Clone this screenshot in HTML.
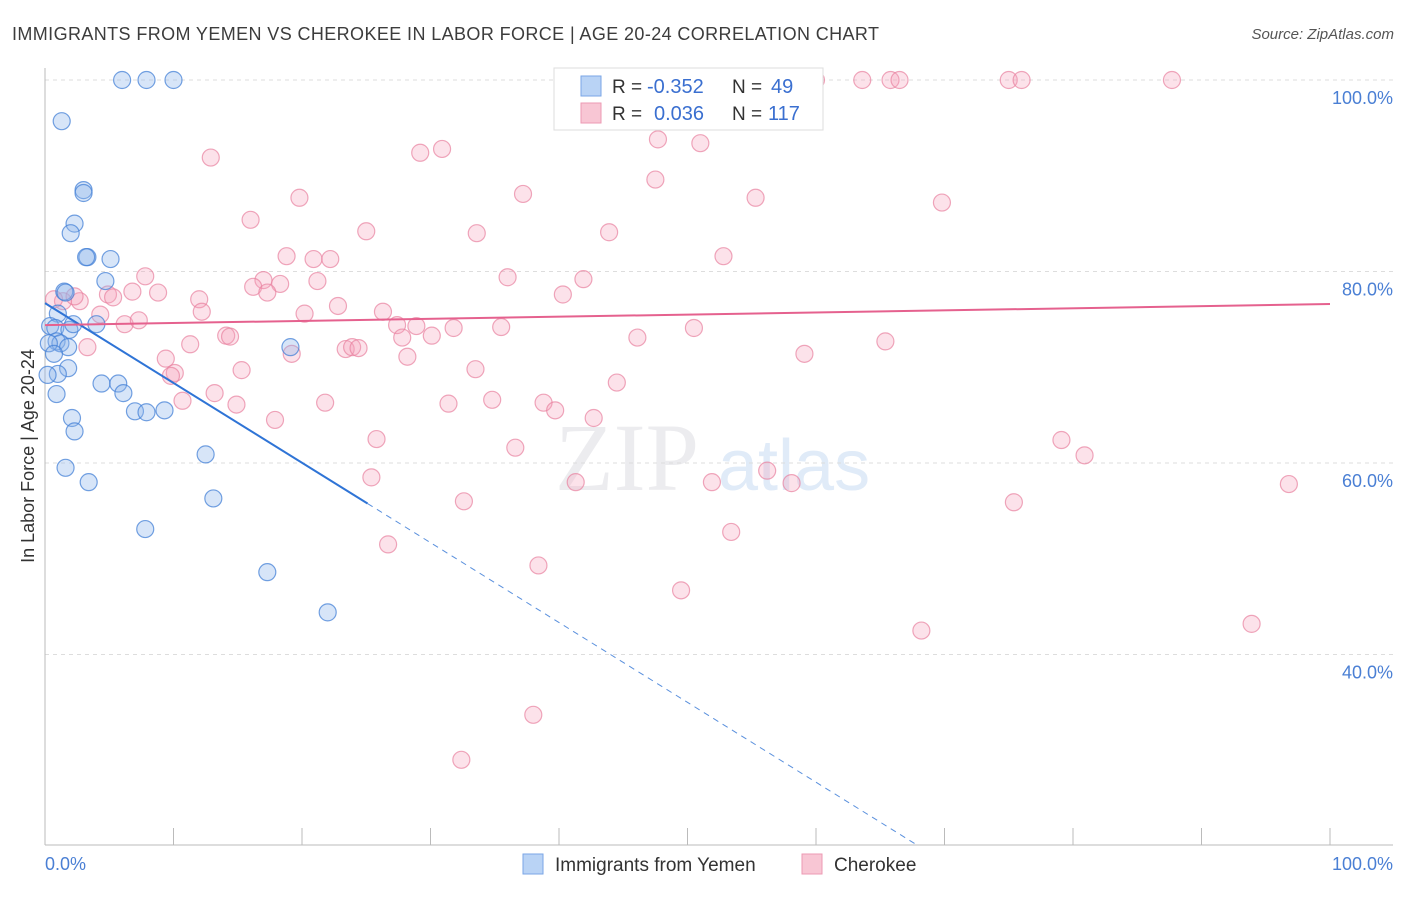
<!DOCTYPE html>
<html><head><meta charset="utf-8"><style>
body{margin:0;background:#fff;font-family:"Liberation Sans",sans-serif}
</style></head><body>
<svg id="c" width="1406" height="892" xmlns="http://www.w3.org/2000/svg">
<text x="12" y="40" font-size="18" textLength="867" fill="#3c3c3c">IMMIGRANTS FROM YEMEN VS CHEROKEE IN LABOR FORCE | AGE 20-24 CORRELATION CHART</text>
<text x="1394" y="39" font-size="15" fill="#555" font-style="italic" text-anchor="end">Source: ZipAtlas.com</text>
<text x="555" y="490" font-size="96" fill="#ececef" font-family="Liberation Serif">ZIP</text>
<text x="718" y="490" font-size="72" fill="#e0ebf8">atlas</text>
<g id="grid"></g><g id="pts"></g><g id="lines"></g>
<text transform="translate(34,456) rotate(-90)" font-size="18" fill="#333" text-anchor="middle">In Labor Force | Age 20-24</text>
<text x="45" y="870" font-size="18" fill="#4a7fd4">0.0%</text>
<text x="1393" y="870" font-size="18" fill="#4a7fd4" text-anchor="end">100.0%</text>
<g>
<rect x="554" y="68" width="269" height="62" fill="#fff" stroke="#ddd"/>
<rect x="581" y="76" width="20" height="20" fill="#b9d3f5" stroke="#7aa6e6"/>
<rect x="581" y="103" width="20" height="20" fill="#f8c6d4" stroke="#ec9ab3"/>
<text x="612" y="93" font-size="19" fill="#333">R =</text>
<text x="647" y="93" font-size="20" fill="#3a6fd0">-0.352</text>
<text x="732" y="93" font-size="19" fill="#333">N =</text>
<text x="771" y="93" font-size="20" fill="#3a6fd0">49</text>
<text x="612" y="120" font-size="19" fill="#333">R =</text>
<text x="654" y="120" font-size="20" fill="#3a6fd0">0.036</text>
<text x="732" y="120" font-size="19" fill="#333">N =</text>
<text x="768" y="120" font-size="20" fill="#3a6fd0">117</text>
</g>
<g>
<rect x="523" y="854" width="20" height="20" fill="#b9d3f5" stroke="#7aa6e6"/>
<text x="555" y="871" font-size="19" fill="#333">Immigrants from Yemen</text>
<rect x="802" y="854" width="20" height="20" fill="#f8c6d4" stroke="#ec9ab3"/>
<text x="834" y="871" font-size="19" fill="#333">Cherokee</text>
</g>
</svg>
<script>
const yTicks=[40,60,80,100];
const yTickLabels=["40.0%","60.0%","80.0%","100.0%"];
const blueX=[6.0,7.9,10.0,1.3,3.0,3.0,2.3,2.0,3.3,3.2,5.1,4.7,1.5,1.6,1.0,0.4,0.8,1.9,2.2,0.9,1.2,1.8,0.3,0.7,1.8,1.0,0.2,4.4,5.7,6.1,0.9,7.0,7.9,9.3,2.1,2.3,19.1,12.5,1.6,3.4,13.1,7.8,17.3,22.0,4.0];
const blueY=[100,100,100,95.7,88.5,88.2,85.0,84.0,81.5,81.5,81.3,79.0,77.9,77.8,75.6,74.3,74.1,73.9,74.5,72.7,72.5,72.1,72.5,71.4,69.9,69.3,69.2,68.3,68.3,67.3,67.2,65.4,65.3,65.5,64.7,63.3,72.1,60.9,59.5,58.0,56.3,53.1,48.6,44.4,74.5];
const pinkX=[58.9,60.0,63.6,65.8,66.5,75.0,76.0,87.7,12.9,29.2,30.9,47.7,51.0,16.0,19.8,37.2,47.5,55.3,69.8,25.0,33.6,43.9,18.8,20.9,22.2,52.8,36.0,41.9,7.8,17.0,16.2,18.3,21.2,17.3,8.8,6.8,4.9,5.3,2.7,1.4,0.7,2.3,12.0,12.2,40.3,20.2,22.8,26.3,4.3,6.2,7.3,27.4,28.9,31.8,35.5,50.5,14.1,14.4,27.8,30.1,23.4,23.9,24.4,19.2,3.3,11.3,46.1,65.4,59.1,28.2,9.4,10.1,9.8,15.3,33.5,44.5,13.2,14.9,10.7,21.8,31.4,34.8,38.8,39.7,42.7,17.9,25.8,36.6,79.1,80.9,56.2,25.4,41.3,51.9,58.1,32.6,75.4,96.8,26.7,53.4,38.4,49.5,68.2,93.9,38.0,32.4];
const pinkY=[100,100,100,100,100,100,100,100,91.9,92.4,92.8,93.8,93.4,85.4,87.7,88.1,89.6,87.7,87.2,84.2,84.0,84.1,81.6,81.3,81.3,81.6,79.4,79.2,79.5,79.1,78.4,78.7,79.0,77.8,77.8,77.9,77.6,77.3,76.9,76.9,77.1,77.4,77.1,75.8,77.6,75.6,76.4,75.8,75.5,74.5,74.9,74.4,74.3,74.1,74.2,74.1,73.3,73.2,73.1,73.3,71.9,72.1,72.0,71.4,72.1,72.4,73.1,72.7,71.4,71.1,70.9,69.4,69.1,69.7,69.8,68.4,67.3,66.1,66.5,66.3,66.2,66.6,66.3,65.5,64.7,64.5,62.5,61.6,62.4,60.8,59.2,58.5,58.0,58.0,57.9,56.0,55.9,57.8,51.5,52.8,49.3,46.7,42.5,43.2,33.7,29.0];
const blueTrend=[76.7,-6.7], blueSolidEnd=25.1;
const pinkTrend=[74.4,76.6];
const X=v=>45+v*12.85, Y=v=>80+(100-v)*9.575;
const NS="http://www.w3.org/2000/svg";
function mk(p,t,a){const e=document.createElementNS(NS,t);for(const k in a)e.setAttribute(k,a[k]);p.appendChild(e);return e;}
const g=document.getElementById('grid');
yTicks.forEach((t,i)=>{
 const l=mk(g,'line',{x1:45,x2:1393,y1:Y(t),y2:Y(t),stroke:'#ddd','stroke-dasharray':'4,4'});
 
 
 const tx=mk(g,'text',{x:1393,y:Y(t)+24,'font-size':18,fill:'#4a7fd4','text-anchor':'end'});
 tx.textContent=yTickLabels[i];
 
 
});
mk(g,'line',{x1:45,x2:45,y1:68,y2:845,stroke:'#bbb'});
mk(g,'line',{x1:45,x2:1393,y1:845,y2:845,stroke:'#bbb'});
for(let i=0;i<=10;i++){const t=mk(g,'line',{x1:X(i*10),x2:X(i*10),y1:828,y2:845,stroke:'#bbb'});
 
 }
const P=document.getElementById('pts');
pinkX.forEach((x,i)=>{const c=mk(P,'circle',{cx:X(x),cy:Y(pinkY[i]),r:8.5,fill:'rgba(244,160,185,0.3)',stroke:'rgba(232,130,160,0.7)','stroke-width':1.2});
 
 });
blueX.forEach((x,i)=>{const c=mk(P,'circle',{cx:X(x),cy:Y(blueY[i]),r:8.5,fill:'rgba(140,180,235,0.35)',stroke:'rgba(70,130,215,0.75)','stroke-width':1.2});
 
 });
const L=document.getElementById('lines');
const bAt=x=>blueTrend[0]+(blueTrend[1]-blueTrend[0])*x/100;
const bl=mk(L,'line',{x1:X(0),y1:Y(bAt(0)),x2:X(blueSolidEnd),y2:Y(bAt(blueSolidEnd)),stroke:'#2f74d6','stroke-width':2});


const xEnd=(blueTrend[0]-20)/(blueTrend[0]-blueTrend[1])*100;
const bd=mk(L,'line',{x1:X(blueSolidEnd),y1:Y(bAt(blueSolidEnd)),x2:X(xEnd),y2:Y(bAt(xEnd)),stroke:'#5a90dd','stroke-width':1,'stroke-dasharray':'6,5'});


const pl=mk(L,'line',{x1:X(0),y1:Y(pinkTrend[0]),x2:X(100),y2:Y(pinkTrend[1]),stroke:'#e5618e','stroke-width':2});


</script>
</body></html>
